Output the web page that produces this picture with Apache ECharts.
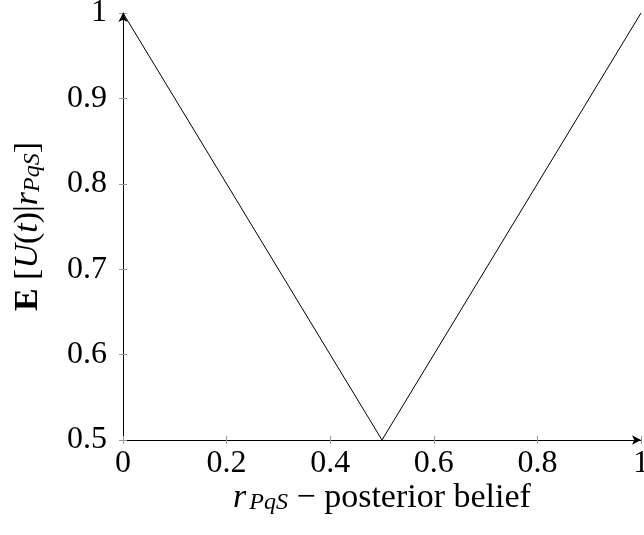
<!DOCTYPE html>
<html><head><meta charset="utf-8">
<script src="https://cdn.jsdelivr.net/npm/echarts@6/dist/echarts.min.js"></script>
<style>html,body{margin:0;padding:0;background:#fff}#c{width:644px;height:535px}</style>
</head><body><div id="c"></div>
<script>
const xValues = [0, 0.5, 1];
const yValues = [1, 0.5, 1];
const xTicks = [0, 0.2, 0.4, 0.6, 0.8, 1];
const yTicks = [0.5, 0.6, 0.7, 0.8, 0.9, 1];

const FONT = '"Liberation Serif", "Times New Roman", serif';
const FS = 32;
const chart = echarts.init(document.getElementById('c'), null, {renderer: 'canvas'});
const pts = xValues.map((x, i) => [x, yValues[i]]);
const tickCol = '#999';
const axisBase = {
  type: 'value', min: 0, max: 1, interval: 0.2, splitLine: {show: false}
};
chart.setOption({
  animation: false,
  grid: {left: 123, right: 3, top: 13, bottom: 95, containLabel: false, outerBoundsMode: 'none'},
  xAxis: [
    Object.assign({}, axisBase, {
      position: 'bottom',
      axisLine: {show: true, onZero: false, lineStyle: {color: '#000', width: 1}, symbol: ['none', 'arrow'], symbolSize: [7, 9]},
      axisTick: {show: true, inside: true, length: 4, lineStyle: {color: tickCol}},
      axisLabel: {show: true, fontFamily: FONT, fontSize: FS, color: '#000', margin: 8},
      name: '{i|r}{sub|PqS}{n| − posterior belief}',
      nameLocation: 'middle', nameGap: 37, nameMoveOverlap: false,
      nameTextStyle: {
        rich: {
          i: {fontFamily: FONT, fontSize: 34, fontStyle: 'italic', color: '#000', lineHeight: 38, verticalAlign: 'bottom', padding: [0, 3, 0, 0]},
          sub: {fontFamily: FONT, fontSize: 24, fontStyle: 'italic', color: '#000', lineHeight: 38, verticalAlign: 'bottom', padding: [12, 0, 0, 0]},
          n: {fontFamily: FONT, fontSize: 34, color: '#000', lineHeight: 38, verticalAlign: 'bottom'}
        }
      }
    }),
    Object.assign({}, axisBase, {
      position: 'bottom',
      axisLine: {show: false, onZero: false},
      axisTick: {show: true, inside: false, length: 4, lineStyle: {color: tickCol}},
      axisLabel: {show: false}
    })
  ],
  yAxis: [
    {
      type: 'value', min: 0.5, max: 1, interval: 0.1, splitLine: {show: false},
      position: 'left',
      axisLine: {show: true, onZero: false, lineStyle: {color: '#000', width: 1}, symbol: ['none', 'arrow'], symbolSize: [7, 9]},
      axisTick: {show: true, inside: true, length: 4, lineStyle: {color: tickCol}},
      axisLabel: {show: true, fontFamily: FONT, fontSize: FS, color: '#000', margin: 16},
      name: '{b|E}{n| [}{i|U}{n|(}{i|t}{n|)|}{i|r}{sub|PqS}{n|]}',
      nameLocation: 'middle', nameGap: 78, nameRotate: 90, nameMoveOverlap: false,
      nameTextStyle: {
        rich: {
          b: {fontFamily: FONT, fontSize: 34, fontWeight: 'bold', color: '#000', lineHeight: 38, verticalAlign: 'bottom'},
          i: {fontFamily: FONT, fontSize: 34, fontStyle: 'italic', color: '#000', lineHeight: 38, verticalAlign: 'bottom'},
          sub: {fontFamily: FONT, fontSize: 24, fontStyle: 'italic', color: '#000', lineHeight: 38, verticalAlign: 'bottom', padding: [12, 0, 0, 0]},
          n: {fontFamily: FONT, fontSize: 34, color: '#000', lineHeight: 38, verticalAlign: 'bottom'}
        }
      }
    },
    {
      type: 'value', min: 0.5, max: 1, interval: 0.1, splitLine: {show: false},
      position: 'left',
      axisLine: {show: false, onZero: false},
      axisTick: {show: true, inside: false, length: 4, lineStyle: {color: tickCol}},
      axisLabel: {show: false}
    }
  ],
  series: [{
    type: 'line', data: pts, xAxisIndex: 0, yAxisIndex: 0,
    showSymbol: false, symbol: 'none', clip: false,
    lineStyle: {color: '#000', width: 1}
  }]
});
</script></body></html>
